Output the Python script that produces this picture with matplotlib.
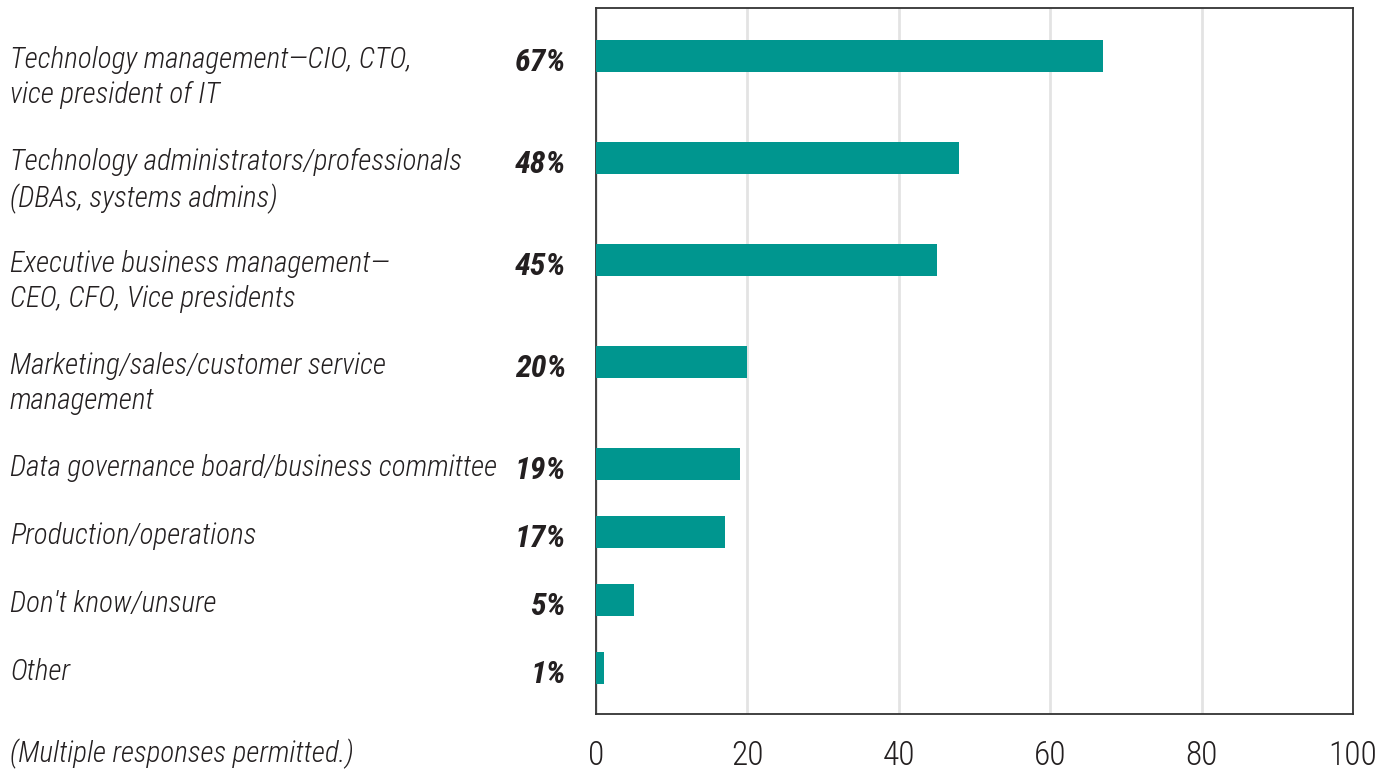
import matplotlib
matplotlib.use("Agg")
import matplotlib.pyplot as plt
from matplotlib.transforms import blended_transform_factory

categories = [
    "Technology management\u2014CIO, CTO,\nvice president of IT",
    "Technology administrators/professionals\n(DBAs, systems admins)",
    "Executive business management\u2014\nCEO, CFO, Vice presidents",
    "Marketing/sales/customer service\nmanagement",
    "Data governance board/business committee",
    "Production/operations",
    "Don't know/unsure",
    "Other",
]
values = [67, 48, 45, 20, 19, 17, 5, 1]
xticks = [0, 20, 40, 60, 80, 100]
note = "(Multiple responses permitted.)"

BAR_COLOR = "#00968f"
TEXT_COLOR = "#231f20"
FONT = ["Roboto Condensed", "DejaVu Sans"]

W, H = 1385, 779
fig = plt.figure(figsize=(W / 100, H / 100), dpi=100)
left, right, top, bottom = 596, 1353, 8, 714
ax = fig.add_axes([left / W, 1 - bottom / H, (right - left) / W, (bottom - top) / H])

# Rows with two-line labels get more vertical room than single-line rows
ypos = []
y = 0.0
for cat in categories:
    ypos.append(y)
    y += 1 + cat.count("\n") + 1

ax.barh(ypos, values, height=0.94, color=BAR_COLOR, zorder=3)
ax.set_xlim(0, 100)
ax.set_ylim(ypos[-1] + 1.35, ypos[0] - 1.41)
ax.set_yticks([])
ax.set_xticks(xticks)
ax.set_xticklabels([str(t) for t in xticks], fontfamily=FONT, fontweight=300,
                   fontsize=24, color=TEXT_COLOR)
ax.tick_params(axis="x", length=0, pad=19)
ax.xaxis.grid(True, color="#e3e3e3", linewidth=2, zorder=0)
for s in ax.spines.values():
    s.set_color("#333333")
    s.set_linewidth(1.3)

tr = blended_transform_factory(fig.transFigure, ax.transData)
for yy, cat, v in zip(ypos, categories, values):
    ax.text(10 / W, yy - 0.3, cat, transform=tr, ha="left", va="top",
            fontfamily=FONT, fontstyle="italic", fontweight=300, fontsize=21,
            color=TEXT_COLOR, linespacing=1.32)
    ax.text(566 / W, yy + 0.2, f"{v}%", transform=tr, ha="right", va="center",
            fontfamily=FONT, fontstyle="italic", fontweight="bold", fontsize=23,
            color=TEXT_COLOR)

fig.text(10 / W, 1 - 754 / H, note, ha="left", va="center",
         fontfamily=FONT, fontstyle="italic", fontweight=300, fontsize=21,
         color=TEXT_COLOR)

fig.savefig("out.png", dpi=100)
